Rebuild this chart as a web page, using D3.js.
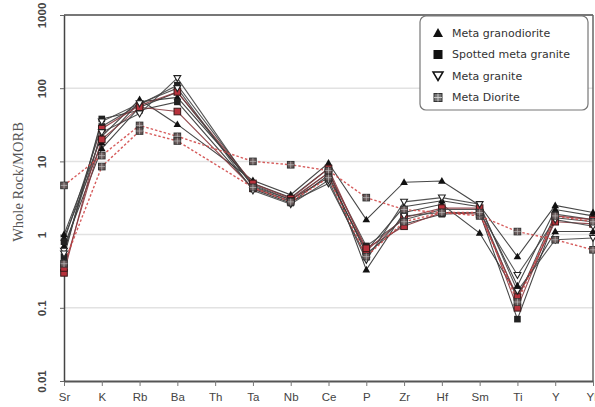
<!DOCTYPE html>
<html>
<head>
<meta charset="utf-8">
<script src="https://cdn.jsdelivr.net/npm/d3@7"></script>
<style>
html,body{margin:0;padding:0;background:#fff;}
svg{display:block;}
</style>
</head>
<body>
<svg id="chart" width="595" height="407"></svg>
<script>
// ---- data ----
const elements = ["Sr","K","Rb","Ba","Th","Ta","Nb","Ce","P","Zr","Hf","Sm","Ti","Y","Yb"];
const yTicks = [0.01, 0.1, 1, 10, 100, 1000];
const yTickLabels = ["0.01", "0.1", "1", "10", "100", "1000"];
const legendLabels = ["Meta granodiorite", "Spotted meta granite", "Meta granite", "Meta Diorite"];

// Meta granodiorite (filled triangles)
const granodiorite1 = [1.0, 22, 70, 32, null, 5.5, 3.5, 9.5, 1.6, 5.2, 5.4, 2.5, 0.5, 2.5, 2.0];
const granodiorite2 = [0.9, 18, 65, 75, null, 5.0, 3.2, 8.0, 0.33, 2.0, 2.6, 1.05, 0.15, 1.1, 1.1];
const granodiorite3 = [0.7, 15, 55, 88, null, 4.6, 3.0, 6.0, 0.6, 2.4, 2.9, 2.4, 0.2, 2.2, 1.8];
// Spotted meta granite (filled squares)
const spotted1 = [0.5, 38, 50, 65, null, 4.2, 2.7, 6.5, 0.55, 1.4, 1.9, 2.0, 0.07, 1.7, 1.5];
const spotted2 = [0.8, 30, 60, 110, null, 4.8, 3.0, 7.0, 0.7, 1.6, 2.2, 2.2, 0.13, 1.9, 1.6];
const spotted3 = [0.3, 28, 58, 89, null, 5.0, 3.1, 8.0, 0.6, 1.7, 2.3, 2.3, 0.1, 1.8, 1.6];
const spotted4 = [0.35, 20, 55, 48, null, 4.3, 2.9, 7.0, 0.65, 1.3, 2.0, 1.9, 0.14, 1.5, 1.4];
// Meta granite (open inverted triangles)
const granite1 = [0.6, 25, 45, 137, null, 4.5, 2.8, 5.0, 0.5, 1.8, 2.0, 2.0, 0.28, 1.6, 1.3];
const granite2 = [0.55, 35, 62, 100, null, 4.0, 2.6, 5.5, 0.45, 2.8, 3.2, 2.6, 0.17, 0.85, 0.9];
// Meta Diorite (boxed squares, red dotted)
const diorite1 = [4.7, 12, 31, 22, null, 10, 9, 7.5, 3.2, 2.2, 2.0, 1.8, 1.1, 0.85, 0.62];
const diorite2 = [0.4, 8.5, 26, 19, null, 4.4, 2.8, 6.0, 0.5, 1.5, 2.0, 2.0, 0.12, 1.8, 1.5];

const series = [
  {values: granodiorite1, marker: "tri", color: "#333"},
  {values: granodiorite2, marker: "tri", color: "#333"},
  {values: granodiorite3, marker: "tri", color: "#333"},
  {values: spotted1, marker: "sq", color: "#333"},
  {values: spotted2, marker: "sq", color: "#444"},
  {values: spotted3, marker: "sqred", color: "#8a3b40"},
  {values: spotted4, marker: "sqred", color: "#8a3b40"},
  {values: granite1, marker: "itri", color: "#444"},
  {values: granite2, marker: "itri", color: "#444"},
  {values: diorite1, marker: "box", color: "#d24a4a", dotted: true},
  {values: diorite2, marker: "box", color: "#d24a4a", dotted: true}
];

// ---- layout ----
const svg = d3.select("#chart");
const L = 64, R = 593, T = 15, B = 381;
const x = d3.scalePoint().domain(elements).range([L, R]).padding(0);
const y = d3.scaleLog().domain([0.01, 1000]).range([B, T]);

// gridlines
svg.append("g").selectAll("line").data(yTicks.slice(1, 5)).join("line")
  .attr("x1", L).attr("x2", R)
  .attr("y1", d => y(d)).attr("y2", d => y(d))
  .attr("stroke", "#e2e2e2").attr("stroke-width", 1.5);

// frame: top and right
svg.append("line").attr("x1", L).attr("x2", R).attr("y1", T).attr("y2", T)
  .attr("stroke", "#777").attr("stroke-width", 2.2);
svg.append("line").attr("x1", R).attr("x2", R).attr("y1", T).attr("y2", B)
  .attr("stroke", "#666").attr("stroke-width", 1.5);

// axes
const xAxis = d3.axisBottom(x).tickSize(5).tickSizeOuter(0);
const gx = svg.append("g").attr("transform", `translate(0,${B})`).call(xAxis);
gx.select(".domain").attr("stroke", "#555").attr("stroke-width", 2);
gx.selectAll(".tick line").attr("stroke", "#777");
gx.selectAll(".tick text").attr("font-family", "Liberation Sans, Arial, sans-serif")
  .attr("font-size", 11.5).attr("fill", "#444").attr("dy", "1.05em");

const yAxis = d3.axisLeft(y).tickValues(yTicks).tickFormat((d, i) => yTickLabels[i]).tickSize(4).tickSizeOuter(0);
const gy = svg.append("g").attr("transform", `translate(${L},0)`).call(yAxis);
gy.select(".domain").attr("stroke", "#444").attr("stroke-width", 1.5);
gy.selectAll(".tick line").attr("stroke", "#666");
gy.selectAll(".tick text")
  .attr("font-family", "Liberation Sans, Arial, sans-serif")
  .attr("font-size", 11.5).attr("font-weight", "bold").attr("fill", "#444")
  .attr("text-anchor", "middle")
  .attr("x", 0).attr("dy", 0)
  .attr("transform", "translate(-22,0) rotate(-90)")
  .attr("dominant-baseline", "central");

// y title
svg.append("text")
  .attr("transform", "translate(18,182) rotate(-90)")
  .attr("text-anchor", "middle").attr("dominant-baseline", "central")
  .attr("font-family", "Liberation Serif, Times New Roman, serif")
  .attr("font-size", 14.5).attr("fill", "#555")
  .text("Whole Rock/MORB");

// lines
const line = d3.line().x(d => x(d.el)).y(d => y(d.v));
const pts = s => s.values.map((v, i) => ({el: elements[i], v})).filter(d => d.v != null);

const order = series.filter(s => !s.dotted).concat(series.filter(s => s.dotted));
svg.append("g").selectAll("path").data(order).join("path")
  .attr("d", s => line(pts(s)))
  .attr("fill", "none")
  .attr("stroke", s => s.color)
  .attr("stroke-width", s => s.dotted ? 1.4 : 1.1)
  .attr("stroke-dasharray", s => s.dotted ? "2.5,2" : null)
  .attr("opacity", 0.9);

// markers
function drawMarker(g, type, cx, cy) {
  const s = 3.3;
  if (type === "tri") {
    g.append("path").attr("d", `M${cx},${cy - 4}L${cx + 3.8},${cy + 2.7}L${cx - 3.8},${cy + 2.7}Z`).attr("fill", "#111");
  } else if (type === "itri") {
    g.append("path").attr("d", `M${cx},${cy + 3.4}L${cx + 3.4},${cy - 2.6}L${cx - 3.4},${cy - 2.6}Z`)
      .attr("fill", "#fff").attr("stroke", "#222").attr("stroke-width", 1.1);
  } else if (type === "sq") {
    g.append("rect").attr("x", cx - s).attr("y", cy - s).attr("width", 2 * s).attr("height", 2 * s).attr("fill", "#222");
  } else if (type === "sqred") {
    g.append("rect").attr("x", cx - s).attr("y", cy - s).attr("width", 2 * s).attr("height", 2 * s)
      .attr("fill", "#b8323c").attr("stroke", "#3a1a1a").attr("stroke-width", 1);
  } else if (type === "box") {
    g.append("rect").attr("x", cx - s).attr("y", cy - s).attr("width", 2 * s).attr("height", 2 * s)
      .attr("fill", "#6a5a5a").attr("stroke", "#333").attr("stroke-width", 1);
    g.append("path").attr("d", `M${cx - s},${cy}H${cx + s}M${cx},${cy - s}V${cy + s}`)
      .attr("stroke", "#bbb").attr("stroke-width", 0.7);
  }
}
const gm = svg.append("g");
order.forEach(s => {
  pts(s).forEach(d => drawMarker(gm, s.marker, x(d.el), y(d.v)));
});

// legend
const lg = svg.append("g");
lg.append("rect").attr("x", 420).attr("y", 16).attr("width", 168).attr("height", 94)
  .attr("rx", 6).attr("fill", "#fff").attr("stroke", "#777").attr("stroke-width", 1.2);
const legMarkers = ["tri", "sq", "itri", "box"];
legendLabels.forEach((t, i) => {
  const cy = 33 + i * 21.5;
  if (legMarkers[i] === "tri") {
    lg.append("path").attr("d", `M438,${cy - 5}L443,${cy + 4}L433,${cy + 4}Z`).attr("fill", "#111");
  } else if (legMarkers[i] === "sq") {
    lg.append("rect").attr("x", 433.5).attr("y", cy - 4.5).attr("width", 9).attr("height", 9).attr("fill", "#111");
  } else if (legMarkers[i] === "itri") {
    lg.append("path").attr("d", `M438,${cy + 4.5}L443,${cy - 4}L433,${cy - 4}Z`)
      .attr("fill", "#fff").attr("stroke", "#111").attr("stroke-width", 1.5);
  } else {
    lg.append("rect").attr("x", 434).attr("y", cy - 4).attr("width", 8).attr("height", 8)
      .attr("fill", "#777").attr("stroke", "#333").attr("stroke-width", 1);
    lg.append("path").attr("d", `M434,${cy}H442M438,${cy - 4}V${cy + 4}`).attr("stroke", "#ddd").attr("stroke-width", 0.8);
  }
  lg.append("text").attr("x", 452).attr("y", cy).attr("dominant-baseline", "central")
    .attr("font-family", "DejaVu Sans, Verdana, sans-serif").attr("font-size", 11)
    .attr("fill", "#333").text(t);
});
</script>
</body>
</html>
